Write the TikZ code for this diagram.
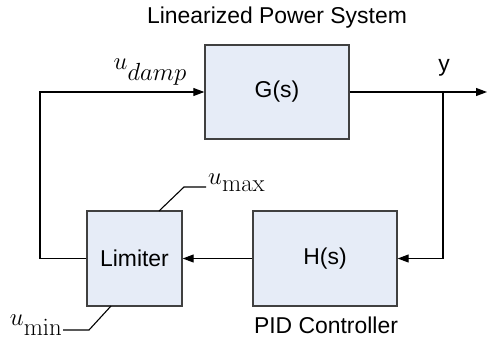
\documentclass[tikz,border=0pt]{standalone}
\usepackage[no-math]{fontspec}
\setmainfont{Liberation Sans}
\usetikzlibrary{arrows.meta}
\definecolor{boxfill}{RGB}{230,236,247}
\definecolor{boxline}{RGB}{64,64,64}
\tikzset{
  blockbox/.style={draw=boxline, line width=1.4pt, fill=boxfill, inner sep=0pt, font=\fontsize{23}{27}\selectfont},
  sig/.style={line width=1.1pt, -{Triangle[length=11bp,width=8bp]}},
  wire/.style={line width=1.1pt},
  lbl/.style={inner sep=0pt, font=\fontsize{23}{27}\selectfont},
  mlbl/.style={inner sep=0pt, font=\fontsize{23}{26}\selectfont}
}
\begin{document}
\begin{tikzpicture}[x=1bp,y=-1bp]
\useasboundingbox (0,0) rectangle (487,339);
\node[blockbox, minimum width=144bp, minimum height=94bp] (G) at (277,92) {G(s)};
\node[blockbox, minimum width=95bp, minimum height=95bp] (L) at (134.5,258.5) {Limiter};
\node[blockbox, minimum width=144bp, minimum height=95bp] (H) at (325,258.5) {H(s)};
\node[lbl] (title) at (277,18) {Linearized Power System};
\node[lbl] (pid) at (326,325) {PID Controller};
\node[lbl] (ylab) at (444,68) {y};
\coordinate (j) at (443,92);
\coordinate (out) at (487,92);
\coordinate (fl) at (40,92);
\coordinate (fb) at (40,258.5);
\coordinate (jd) at (443,258.5);
\draw[sig] (G.east) -- (out);
\draw[sig] (j) -- (jd) -- (H.east);
\draw[sig] (H.west) -- (L.east);
\draw[sig] (L.west) -- (fb) -- (fl) -- (G.west);
\node[mlbl] (ud) at (150,72) {\raisebox{11bp}{$u$}$damp$};
\coordinate (mx1) at (159,211);
\coordinate (mx2) at (184,187);
\coordinate (mx3) at (206,187);
\node[mlbl, anchor=west] (umax) at (208,183) {\raisebox{7bp}{$u$}$\mathrm{max}$};
\draw[wire] (mx1) -- (mx2) -- (mx3);
\coordinate (mn1) at (111,306);
\coordinate (mn2) at (89,330);
\coordinate (mn3) at (63,330);
\node[mlbl, anchor=east] (umin) at (62,325) {\raisebox{10bp}{$u$}$\mathrm{min}$};
\draw[wire] (mn1) -- (mn2) -- (mn3);
\end{tikzpicture}
\end{document}
